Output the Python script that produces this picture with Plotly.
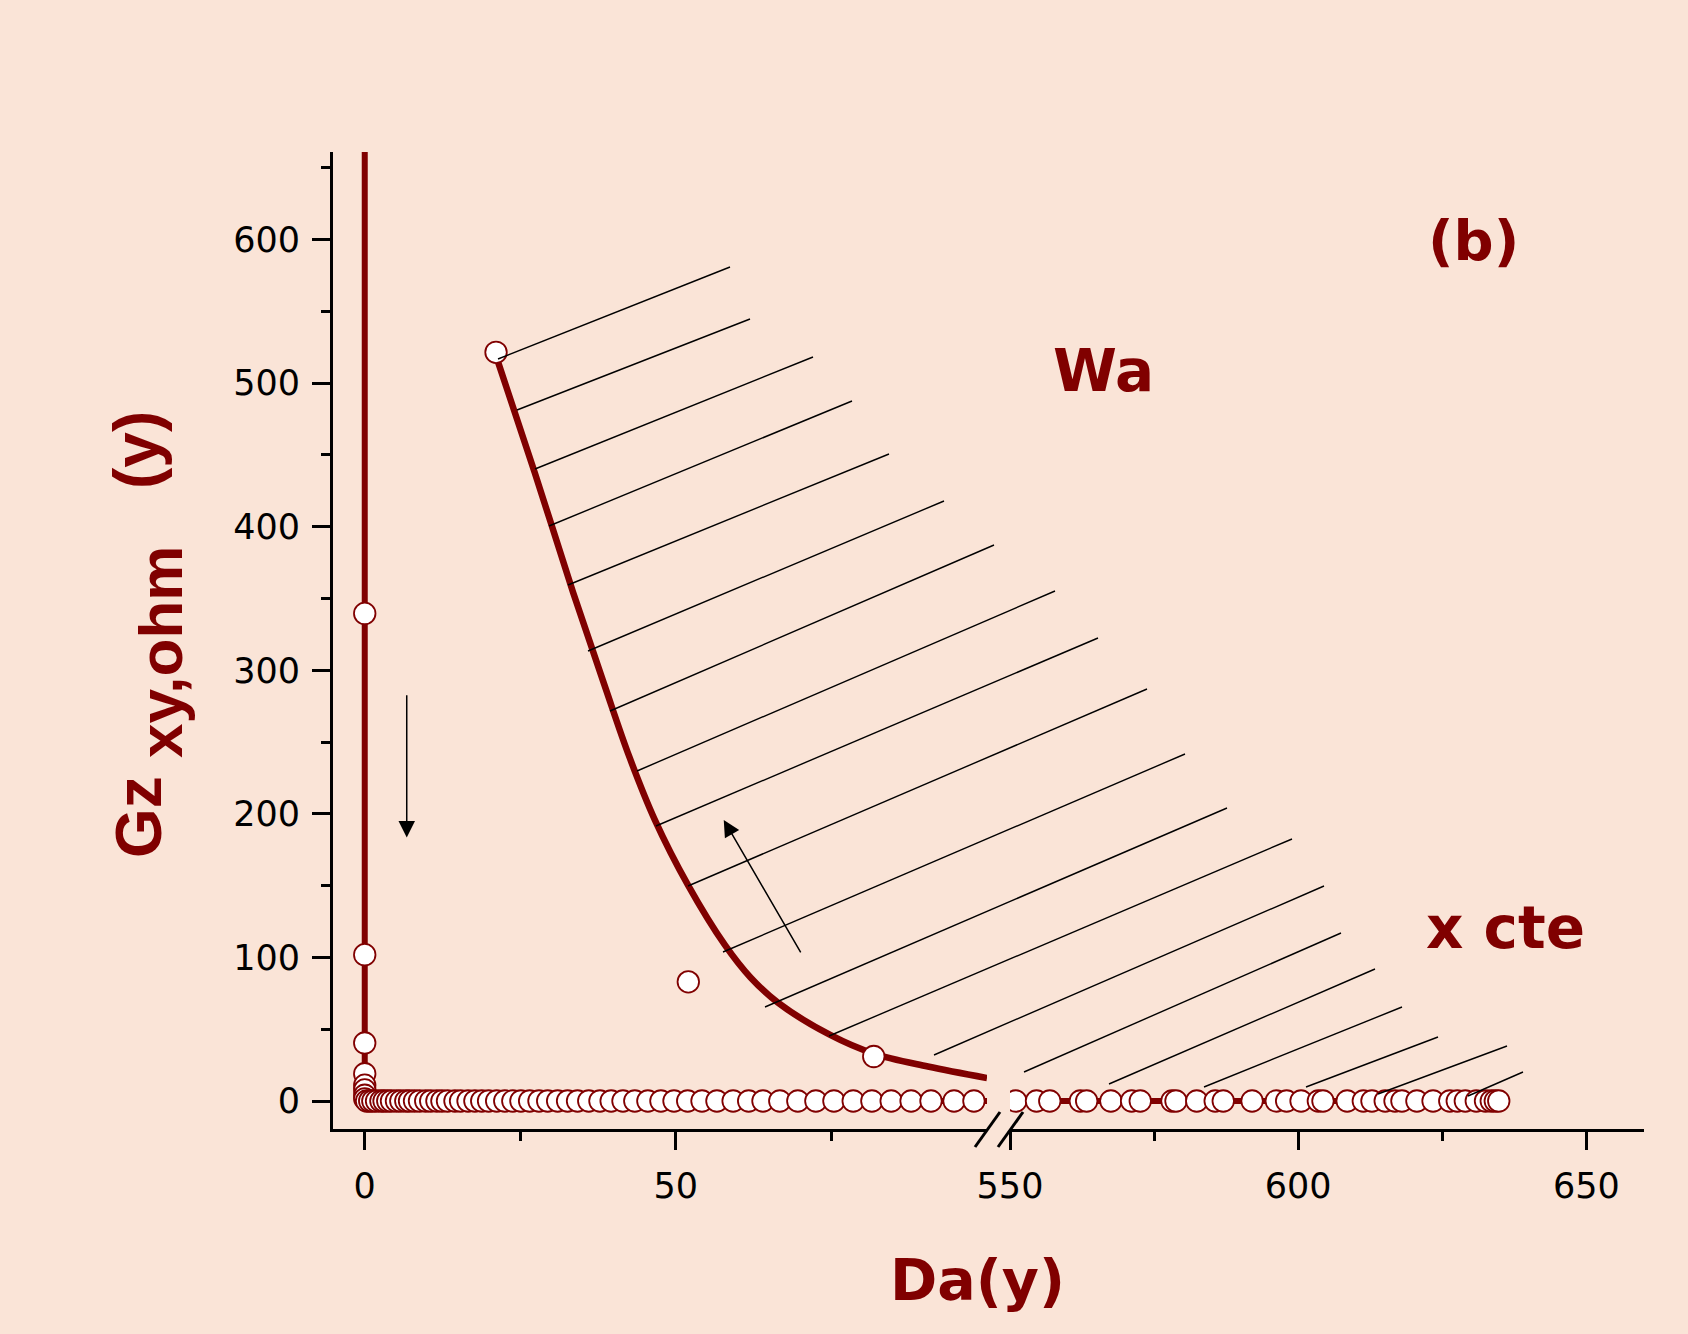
import plotly.graph_objects as go

# ---------------- data ----------------
# Gz(xy,ohm) series, x constant: vertical part at Da = 0
col_x = [0.0, 0.0, 0.0, 0.0, 0.0, 0.0, 0.0, 0.0, 0.0]
col_y = [2000.0, 339.6, 101.9, 40.4, 19.0, 11.0, 7.7, 4.0, 1.5]

# horizontal part, left of the axis break
row_left_x = [0.3, 0.8, 1.3, 1.9, 2.6, 3.1, 3.7, 4.3, 5.1, 5.8,
              6.6, 7.2, 8.0, 8.8, 9.8, 10.6, 11.6, 12.4, 13.3, 14.5,
              15.4, 16.6, 17.7, 18.8, 19.9, 21.2, 22.5, 23.8, 25.1, 26.5,
              28.0, 29.4, 31.0, 32.6, 34.2, 36.0, 37.8, 39.6, 41.5, 43.4,
              45.5, 47.6, 49.7, 51.9, 54.2, 56.6, 59.2, 61.7, 64.0, 66.7,
              69.6, 72.5, 75.4, 78.5, 81.5, 84.6, 87.8, 91.0, 94.7, 97.9]
row_left_y = [0, 0, 0, 0, 0, 0, 0, 0, 0, 0,
              0, 0, 0, 0, 0, 0, 0, 0, 0, 0,
              0, 0, 0, 0, 0, 0, 0, 0, 0, 0,
              0, 0, 0, 0, 0, 0, 0, 0, 0, 0,
              0, 0, 0, 0, 0, 0, 0, 0, 0, 0,
              0, 0, 0, 0, 0, 0, 0, 0, 0, 0]

# horizontal part, right of the axis break
row_right_x = [551.0, 554.6, 556.9, 562.2, 563.3, 567.5, 571.1, 572.6, 578.1, 578.8,
               582.4, 585.6, 587.0, 592.0, 596.2, 598.0, 600.5, 603.5, 604.3, 608.5,
               611.3, 612.8, 615.1, 616.8, 618.0, 620.6, 623.4, 626.3, 627.6, 629.0,
               630.9, 632.5, 633.5, 634.2, 634.8]
row_right_y = [0, 0, 0, 0, 0, 0, 0, 0, 0, 0,
               0, 0, 0, 0, 0, 0, 0, 0, 0, 0,
               0, 0, 0, 0, 0, 0, 0, 0, 0, 0,
               0, 0, 0, 0, 0]

# Wa points and their fitted curve
wa_x = [21.1, 52.0, 81.8]
wa_y = [521.5, 83.0, 31.0]
fit_x = [21.1, 27.3, 33.5, 38.5, 42.5, 46.6, 52.0, 57.9, 62.0, 66.4, 74.8, 81.8, 90.5, 100.0]
fit_y = [519.0, 438.0, 354.0, 290.0, 240.0, 196.0, 150.0, 108.5, 86.0, 68.5, 46.0, 33.0, 24.0, 16.0]

# ticks
left_ticks = [0, 50]
left_minor = [25, 75]
right_ticks = [550, 600, 650]
right_minor = [575, 625]
y_ticks = [0, 100, 200, 300, 400, 500, 600]
y_minor = [50, 150, 250, 350, 450, 550, 650]

# hatching of the Wa region (figure pixels: start -> end)
hatch_start = [(498, 359), (517, 410), (535, 469), (549, 526), (568, 585), (588, 651),
               (610, 711), (637, 771), (656, 826), (688, 886), (723, 952), (765, 1007),
               (829, 1036), (934, 1055), (1024, 1072), (1109, 1084), (1204, 1087),
               (1306, 1087), (1378, 1094), (1468, 1096)]
hatch_end = [(730, 267), (750, 319), (813, 357), (852, 401), (889, 454), (944, 501),
             (994, 545), (1055, 591), (1098, 638), (1147, 689), (1185, 754), (1227, 808),
             (1292, 839), (1324, 886), (1341, 933), (1375, 969), (1402, 1007),
             (1438, 1037), (1507, 1046), (1523, 1072)]

# ---------------- styling ----------------
W, H = 1688, 1334
ML, MR, MT, MB = 333, 44, 152, 205
PW, PH = W - ML - MR, H - MT - MB
BG = "#FAE4D7"
RED = "#800000"
TICKFONT = dict(family="DejaVu Sans", size=35, color="black")
BOLD = "DejaVu Sans"
NARROW = "Liberation Sans"


def px2paper(px, py):
    return (px - ML) / PW, (H - MB - py) / PH


gz_x = col_x + row_left_x + row_right_x
gz_y = col_y + row_left_y + row_right_y

fig = go.Figure()

for xa in ["x", "x2"]:
    fig.add_trace(go.Scatter(
        x=gz_x, y=gz_y, mode="lines+markers", xaxis=xa, yaxis="y",
        line=dict(color=RED, width=6),
        marker=dict(size=21.5, color="white", line=dict(color=RED, width=1.8)),
        hoverinfo="skip"))

fig.add_trace(go.Scatter(
    x=fit_x, y=fit_y, mode="lines", xaxis="x", yaxis="y",
    line=dict(color=RED, width=6.5, shape="spline", smoothing=1.0),
    hoverinfo="skip"))
fig.add_trace(go.Scatter(
    x=wa_x, y=wa_y, mode="markers", xaxis="x", yaxis="y",
    marker=dict(size=21.5, color="white", line=dict(color=RED, width=1.8)),
    hoverinfo="skip"))

shapes = []
for (sx, sy), (ex, ey) in zip(hatch_start, hatch_end):
    x0, y0 = px2paper(sx, sy)
    x1, y1 = px2paper(ex, ey)
    shapes.append(dict(type="line", xref="paper", yref="paper", x0=x0, y0=y0,
                       x1=x1, y1=y1, line=dict(color="black", width=1.4)))
# axis-break slashes
for (sx, sy), (ex, ey) in [((975, 1147), (1000, 1112)), ((998, 1147), (1023, 1112))]:
    x0, y0 = px2paper(sx, sy)
    x1, y1 = px2paper(ex, ey)
    shapes.append(dict(type="line", xref="paper", yref="paper", x0=x0, y0=y0,
                       x1=x1, y1=y1, line=dict(color="black", width=3)))

ann = []
# arrows
ann.append(dict(x=6.75, y=183.6, ax=6.75, ay=283.6, xref="x", yref="y", axref="x", ayref="y",
                text="", showarrow=True, arrowhead=2, arrowsize=2.2, arrowwidth=1.5,
                arrowcolor="black"))
ann.append(dict(x=57.7, y=195.8, ax=70.2, ay=102.4, xref="x", yref="y", axref="x", ayref="y",
                text="", showarrow=True, arrowhead=2, arrowsize=2.2, arrowwidth=1.5,
                arrowcolor="black"))


def label(text, cx, cy, size, family=BOLD, angle=0):
    px, py = px2paper(cx, cy)
    ann.append(dict(x=px, y=py, xref="paper", yref="paper", text=text, showarrow=False,
                    xanchor="center", yanchor="middle", textangle=angle,
                    font=dict(family=family, size=size, color=RED, weight="bold")))


label("(b)", 1473, 240, 56)
label("Wa", 1103, 371, 58)
label("x cte", 1505, 928, 58)
label("Da(y)", 977, 1280, 57)
label("Gz", 139, 817, 64, NARROW, -90)
label("xy,ohm", 160, 652, 62, NARROW, -90)
label("(y)", 137, 450, 64, NARROW, -90)

axis_common = dict(showline=True, linecolor="black", linewidth=3, ticks="outside",
                   ticklen=18, tickwidth=3, tickcolor="black", showgrid=False,
                   zeroline=False, tickfont=TICKFONT)

fig.update_layout(
    width=W, height=H, margin=dict(l=ML, r=MR, t=MT, b=MB),
    paper_bgcolor=BG, plot_bgcolor=BG, showlegend=False,
    xaxis=dict(domain=[0, (987 - ML) / PW], range=[-5.1, 100], anchor="y",
               tickmode="array", tickvals=left_ticks, ticklabelstandoff=6,
               minor=dict(tickmode="array", tickvals=left_minor, ticks="outside",
                          ticklen=9, tickwidth=3, tickcolor="black"),
               **axis_common),
    xaxis2=dict(domain=[(1010 - ML) / PW, 1], range=[550, 660], anchor="y",
                tickmode="array", tickvals=right_ticks, ticklabelstandoff=6,
                minor=dict(tickmode="array", tickvals=right_minor, ticks="outside",
                           ticklen=9, tickwidth=3, tickcolor="black"),
                **axis_common),
    yaxis=dict(domain=[0, 1], range=[-19.5, 661], anchor="x",
               tickmode="array", tickvals=y_ticks, ticklabelstandoff=5,
               minor=dict(tickmode="array", tickvals=y_minor, ticks="outside",
                          ticklen=9, tickwidth=3, tickcolor="black"),
               **axis_common),
    shapes=shapes, annotations=ann,
)

fig.write_html("out.html")
